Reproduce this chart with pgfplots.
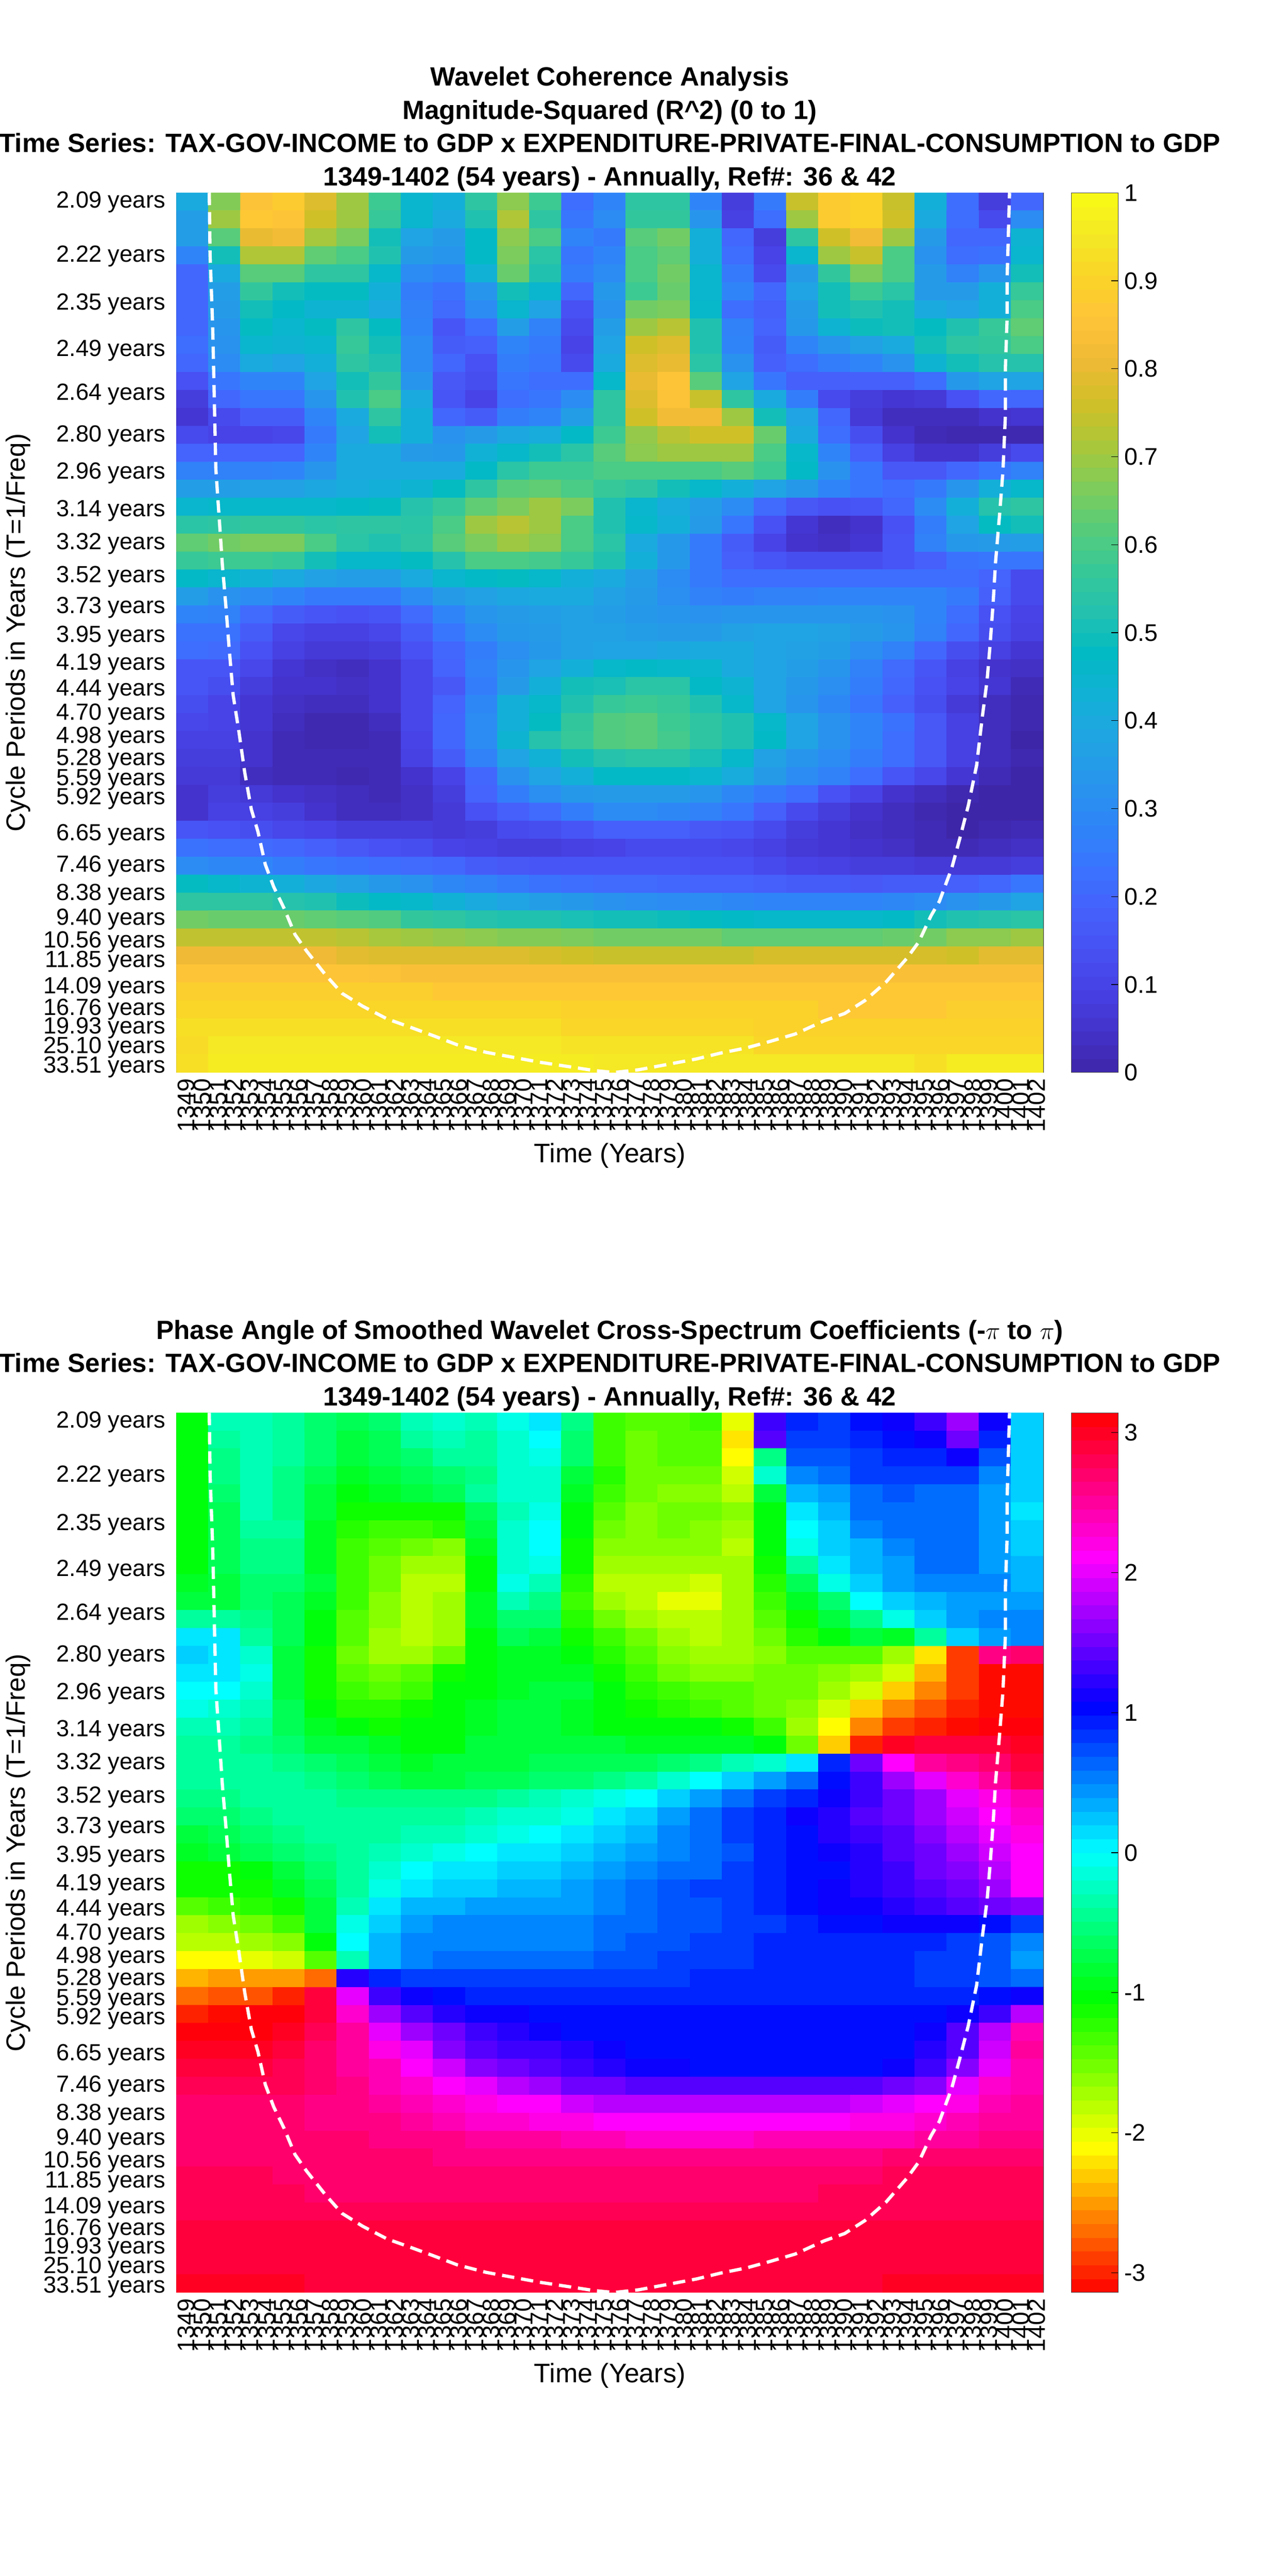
\documentclass[border=0pt]{standalone}
\usepackage{fontspec}
\setmainfont{Liberation Sans}
\usepackage{pgfplots}
\pgfplotsset{compat=1.18}
\newcount\hmx \newcount\hmy
\newcommand\hmreset{\global\hmy=0 \gdef\hmdata{}}
\newcommand\hmadd[1]{\pgfmathsetmacro\hmxx{1349.5+2*\the\hmx}\xdef\hmdata{\hmdata (\hmxx,\hmyy)[#1] }}
\newcommand\R[1]{\global\hmx=0 \pgfmathsetmacro\hmyy{(\the\hmy+0.5)*48/49}%
 \pgfplotsforeachungrouped \v in {#1}{\ifnum\hmx<27 \hmadd{\v}\global\advance\hmx by 1 \fi\xdef\hmlast{\v}}%
 \loop\ifnum\hmx<27 \hmadd{\hmlast}\global\advance\hmx by 1 \repeat
 \global\advance\hmy by 1 }
% Panel 1: R^2 x 100, 49 rows (top to bottom), 27 two-year columns
\hmreset
\R{40,67,85,88,78,70,58,45,42,55,68,58,22,28,55,55,28,8,25,75,88,90,75,42,22,8,20}
\R{36,70,87,86,76,70,57,45,40,52,72,55,24,30,56,56,33,9,22,70,88,90,76,40,22,12,30}
\R{36,62,80,82,71,66,50,38,35,47,68,60,28,25,62,65,42,20,8,55,76,82,70,35,20,20,44}
\R{28,50,72,72,63,60,52,35,33,47,66,54,24,28,60,63,42,22,10,45,70,75,60,32,22,23,45}
\R{20,40,62,62,55,55,46,30,28,43,64,52,26,30,60,65,45,25,12,35,56,66,60,35,27,33,50}
\R{20,36,56,50,48,48,42,26,23,33,50,45,20,34,58,64,45,28,20,38,50,58,54,35,35,42,57}
\R{20,35,50,47,44,44,40,27,21,30,45,38,14,32,65,66,46,22,18,35,50,52,50,40,38,42,60}
\R{20,33,48,45,48,55,48,28,15,22,36,27,12,36,70,73,52,27,19,34,44,49,50,48,52,57,63}
\R{22,32,45,44,45,57,50,30,17,18,28,25,10,38,76,78,52,28,17,28,33,37,40,50,55,56,60}
\R{20,30,40,38,42,55,52,30,20,14,26,24,12,40,78,80,54,32,18,22,26,28,32,44,50,53,53}
\R{14,24,28,28,38,50,56,33,16,13,24,22,22,46,80,86,62,38,24,18,18,18,18,22,34,38,38}
\R{8,20,24,24,33,52,60,40,15,10,22,24,30,55,78,85,75,55,40,26,12,8,6,7,14,20,20}
\R{6,12,17,17,28,40,55,42,20,17,26,28,36,55,76,82,82,70,50,38,20,7,3,3,3,5,6}
\R{12,10,10,11,25,38,50,42,32,35,39,41,47,58,69,73,76,76,64,40,22,13,5,2,1,1,1}
\R{19,19,19,19,28,40,40,35,34,43,46,50,54,62,68,70,70,70,60,46,28,18,9,5,5,8,12}
\R{27,27,27,28,33,40,40,40,40,47,54,58,58,60,60,60,60,62,58,47,32,24,16,16,20,24,27}
\R{36,36,37,37,39,41,42,44,48,55,62,63,60,57,55,50,46,42,38,34,28,24,22,25,33,42,46}
\R{45,46,46,46,46,47,48,53,57,63,66,70,66,52,45,41,36,30,21,16,14,15,20,30,42,53,55}
\R{54,55,56,56,54,55,55,54,60,70,73,70,60,52,46,42,35,24,14,6,3,5,14,26,38,48,50}
\R{63,65,66,66,60,54,52,55,62,66,70,68,60,54,40,34,25,17,10,5,4,6,15,27,34,35,36}
\R{57,58,58,57,50,46,46,48,53,60,60,59,57,52,42,34,25,18,15,13,13,13,15,18,23,24,24}
\R{47,45,43,40,37,36,36,40,45,47,48,46,42,40,36,30,25,22,22,22,22,22,22,22,22,19,12}
\R{36,32,30,28,25,25,25,30,35,37,39,40,40,37,35,31,27,26,27,27,28,28,28,28,25,18,12}
\R{28,27,21,17,15,14,15,21,28,33,35,36,37,36,34,33,32,33,33,33,33,33,32,28,22,14,10}
\R{23,23,17,11,9,9,11,17,24,30,34,35,37,37,36,35,35,37,38,38,37,35,33,27,20,13,9}
\R{22,21,14,9,7,7,8,14,20,26,31,34,37,38,38,39,40,40,38,37,36,31,27,20,13,9,6}
\R{15,15,11,6,4,3,5,11,19,27,33,38,42,46,47,46,45,40,38,36,33,27,21,15,9,5,4}
\R{15,13,8,5,5,4,5,11,16,26,35,42,50,51,54,54,47,44,38,34,31,26,20,14,10,6,2}
\R{13,10,6,4,3,3,5,11,19,29,42,46,52,57,58,57,52,46,38,33,29,24,18,13,7,3,1}
\R{11,10,6,3,1,1,3,11,20,30,42,48,56,61,62,58,55,52,46,38,32,28,23,16,9,3,1}
\R{9,9,5,2,1,1,2,10,20,30,44,53,57,61,62,59,55,52,47,38,32,28,22,16,9,3,0}
\R{8,8,5,2,2,2,2,9,17,27,38,43,50,53,54,54,51,46,37,33,30,26,22,16,9,3,1}
\R{7,7,3,2,2,1,2,5,10,20,32,38,42,47,47,47,45,41,35,30,27,22,15,11,6,2,0}
\R{5,8,7,5,4,3,2,4,8,19,26,31,34,35,35,35,33,29,25,22,14,10,5,3,1,0,0}
\R{5,9,9,8,5,3,3,4,7,14,18,21,26,30,30,29,27,24,18,12,8,5,3,1,0,0,0}
\R{15,14,13,11,10,8,8,8,7,8,12,13,15,18,18,18,16,15,12,8,6,4,3,2,0,1,2}
\R{23,22,21,20,18,16,14,13,10,9,8,8,9,10,12,12,12,11,9,7,6,5,4,2,2,3,4}
\R{30,29,28,26,24,23,22,21,20,17,16,15,15,15,15,15,14,14,12,10,9,8,8,7,7,7,8}
\R{48,46,44,42,39,37,34,32,29,27,25,23,22,21,21,20,19,19,18,17,17,16,17,17,18,20,24}
\R{55,55,55,53,52,49,47,46,43,40,38,36,34,32,31,30,30,29,28,28,28,28,29,30,32,34,38}
\R{65,64,64,64,63,62,61,56,55,53,52,52,51,50,50,49,48,47,46,46,46,46,47,50,52,53,54}
\R{74,74,74,74,74,73,71,70,69,68,67,67,66,65,65,65,65,63,63,63,63,63,64,65,68,68,70}
\R{81,81,81,81,81,79,78,78,78,78,78,77,76,75,75,75,75,75,77,77,77,77,77,77,76,79,79}
\R{86,86,86,86,86,86,85,84,84,84,84,84,84,84,84,84,84,84,84,84,84,84,84,84,84,84,84}
\R{89,89,89,89,89,89,89,89,87,87,87,87,87,87,87,87,87,87,87,87,87,87,87,87,87,87,87}
\R{91,91,91,91,91,91,91,91,91,91,91,91,90,90,90,90,90,90,90,90,87,87,87,87,89,89,89}
\R{93,93,93,93,93,93,93,93,93,93,93,93,91,91,91,91,91,91,90,90,90,90,90,90,90,90,90}
\R{92,95,95,95,95,95,95,95,95,95,95,95,94,94,94,94,94,94,91,91,91,91,91,91,91,91,91}
\R{93,96,96,96,96,96,96,96,96,96,96,96,96,95,95,95,95,95,95,95,95,95,95,93,96,96,96}
\let\hmA\hmdata
% Panel 2: phase x 10 (radians), 49 rows (top to bottom), 27 two-year columns
\hmreset
\R{-10,-3,-3,-4,-6,-7,-6,-3,-2,-3,-1,1,-5,-13,-14,-14,-13,-20,13,9,8,10,11,13,17,11,2}
\R{-10,-4,-3,-4,-6,-8,-7,-4,-3,-4,-2,0,-6,-13,-15,-14,-14,-22,14,8,8,9,10,11,15,9,2}
\R{-10,-5,-3,-4,-6,-8,-7,-6,-4,-4,-2,-1,-6,-13,-15,-14,-14,-21,-5,7,7,8,9,9,11,7,2}
\R{-10,-5,-3,-5,-7,-9,-8,-7,-6,-5,-2,-2,-8,-12,-15,-15,-15,-19,-2,5,6,8,8,8,8,5,2}
\R{-10,-6,-3,-5,-8,-10,-9,-8,-7,-4,-2,-2,-9,-13,-15,-16,-16,-18,-8,3,4,6,7,6,6,4,2}
\R{-10,-7,-3,-5,-8,-11,-11,-11,-11,-7,-3,-1,-10,-14,-16,-15,-15,-16,-10,1,3,6,6,6,6,4,1}
\R{-10,-7,-4,-4,-9,-12,-13,-13,-12,-8,-2,0,-10,-15,-16,-15,-16,-17,-10,0,2,5,6,6,6,4,2}
\R{-10,-7,-5,-5,-9,-13,-14,-15,-16,-9,-2,0,-11,-16,-16,-16,-16,-18,-10,-1,2,3,5,6,6,4,2}
\R{-10,-7,-5,-5,-9,-13,-15,-17,-17,-10,-2,-1,-11,-17,-17,-17,-17,-17,-11,-4,1,3,4,6,6,4,3}
\R{-9,-8,-6,-6,-8,-13,-15,-18,-18,-10,-1,-3,-12,-18,-18,-18,-19,-17,-12,-7,-1,2,4,5,5,5,3}
\R{-8,-8,-6,-7,-9,-13,-16,-18,-17,-9,-3,-5,-13,-17,-18,-20,-20,-17,-13,-9,-6,0,2,3,4,4,4}
\R{-4,-4,-5,-7,-10,-14,-16,-18,-17,-9,-6,-6,-12,-15,-17,-18,-18,-17,-14,-11,-8,-5,-1,2,4,5,5}
\R{1,1,-4,-7,-10,-14,-17,-18,-17,-10,-7,-8,-11,-13,-15,-17,-18,-17,-15,-12,-10,-8,-9,-4,2,4,5}
\R{2,1,-2,-8,-11,-15,-17,-17,-15,-10,-9,-9,-10,-12,-14,-16,-17,-17,-16,-14,-14,-14,-17,-22,-29,26,27}
\R{1,1,-1,-8,-11,-14,-15,-14,-11,-10,-9,-9,-9,-11,-13,-15,-16,-16,-15,-15,-16,-17,-19,-24,-29,-31,-31}
\R{0,0,-2,-8,-11,-13,-14,-13,-10,-10,-9,-8,-8,-10,-12,-13,-14,-14,-15,-15,-17,-19,-23,-26,-29,-31,-31}
\R{-1,-2,-3,-7,-10,-12,-12,-11,-10,-9,-8,-8,-9,-10,-11,-12,-13,-14,-15,-16,-19,-23,-26,-28,-30,-31,-31}
\R{-3,-3,-4,-7,-9,-10,-11,-10,-10,-9,-8,-8,-9,-10,-10,-10,-10,-11,-13,-17,-21,-26,-29,-30,-31,31,31}
\R{-4,-4,-5,-6,-8,-8,-9,-10,-10,-8,-8,-8,-8,-8,-9,-9,-9,-9,-10,-15,-23,-30,30,29,29,29,30}
\R{-4,-4,-4,-5,-6,-7,-8,-9,-8,-8,-8,-7,-7,-7,-7,-6,-5,-3,-2,1,9,15,21,25,26,27,29}
\R{-4,-4,-4,-4,-5,-6,-7,-8,-8,-7,-7,-6,-6,-5,-4,-2,0,2,4,6,10,13,17,20,23,25,28}
\R{-5,-5,-4,-4,-4,-5,-5,-5,-5,-5,-4,-3,-2,-1,0,2,4,6,8,9,11,13,15,17,20,22,24}
\R{-6,-6,-5,-4,-4,-4,-4,-4,-4,-3,-2,-2,-1,1,2,4,6,8,9,11,12,14,15,17,19,21,23}
\R{-8,-7,-6,-5,-4,-4,-4,-3,-3,-2,-1,0,1,2,3,5,6,8,9,10,12,13,14,16,18,20,22}
\R{-9,-8,-7,-6,-5,-4,-3,-2,-1,0,1,1,2,3,4,5,6,7,9,10,11,12,14,15,17,19,21}
\R{-11,-11,-10,-8,-6,-4,-2,0,1,1,2,2,3,4,5,6,6,8,9,10,10,12,13,15,16,18,21}
\R{-11,-11,-11,-9,-7,-4,-1,1,2,2,3,3,4,5,6,7,8,8,9,10,11,12,13,14,15,17,21}
\R{-14,-13,-12,-11,-8,-3,1,3,3,4,4,4,4,5,6,7,7,8,9,10,11,11,12,13,14,15,16}
\R{-17,-16,-15,-13,-8,-1,2,4,5,5,5,5,5,6,6,7,7,8,8,9,10,10,11,11,11,10,8}
\R{-18,-18,-17,-16,-10,0,3,5,5,5,5,5,5,6,7,7,8,8,9,9,9,9,9,9,8,7,5}
\R{-21,-21,-20,-19,-14,-3,3,5,6,6,6,6,6,7,7,8,8,8,9,9,9,9,9,8,8,7,4}
\R{-24,-25,-25,-25,-27,12,9,8,8,8,8,8,8,8,8,8,9,9,9,9,9,9,9,8,8,7,6}
\R{-27,-28,-28,-30,29,20,13,11,10,9,9,9,9,9,9,9,9,9,9,9,9,9,9,9,9,10,11}
\R{-30,-31,31,31,29,23,17,14,12,11,11,10,10,10,10,10,10,10,10,10,10,10,10,10,11,13,18}
\R{31,31,31,30,28,25,20,17,15,13,12,11,10,10,10,10,10,10,10,10,10,10,10,11,14,18,24}
\R{30,30,30,29,27,25,22,20,16,14,13,13,12,11,10,10,10,10,10,10,10,10,10,12,14,19,25}
\R{29,29,29,28,27,25,24,21,19,16,15,14,13,12,11,11,10,10,10,10,10,10,11,13,16,20,24}
\R{28,28,28,28,27,26,24,23,21,20,18,17,15,15,14,14,14,14,14,14,14,14,15,16,20,23,24}
\R{27,27,27,27,26,26,25,24,23,22,21,21,19,18,18,18,18,18,18,18,18,19,20,21,22,24,25}
\R{27,27,27,27,26,26,26,25,24,23,23,22,22,21,21,21,21,21,21,21,21,22,22,23,24,25,25}
\R{27,27,27,27,27,27,26,26,26,25,25,25,24,24,23,23,23,23,24,24,24,24,24,25,25,26,26}
\R{27,27,27,27,27,27,27,27,26,26,26,26,26,26,26,26,26,26,26,26,26,26,27,27,27,27,27}
\R{28,28,28,27,27,27,27,27,27,27,27,27,27,27,27,27,27,27,27,27,27,27,28,28,28,28,28}
\R{28,28,28,28,27,27,27,27,27,27,27,27,27,27,27,27,27,27,27,27,28,28,28,28,28,28,28}
\R{28}
\R{29}
\R{29}
\R{29}
\R{30,30,30,30,29,29,29,29,29,29,29,29,29,29,29,29,29,29,29,29,29,29,30,30,30,30,30}
\let\hmB\hmdata
\newcommand\hmplot[1]{\edef\hmtmp{\noexpand\addplot[matrix plot*,mesh/cols=27,mesh/rows=49,point meta=explicit] coordinates {#1};}\hmtmp}
\newcommand\tl{\fontsize{14}{16}\selectfont}
\newcommand\tly{\fontsize{13.6}{16}\selectfont}
\newcommand\lb{\fontsize{15.6}{18}\selectfont}
\newcommand\lby{\fontsize{15.4}{18}\selectfont}
\pgfplotsset{
 colormap={parula}{rgb=(.2422,.1504,.6603) rgb=(.2647,.1978,.7952) rgb=(.2783,.2559,.8991) rgb=(.2810,.3228,.9579) rgb=(.2699,.3892,.9906) rgb=(.2206,.4603,.9973) rgb=(.1786,.5289,.9682) rgb=(.1540,.5902,.9218) rgb=(.1248,.6459,.8883) rgb=(.0689,.6948,.8394) rgb=(.0067,.7312,.7660) rgb=(.1408,.7584,.6842) rgb=(.2161,.7843,.5923) rgb=(.3406,.8008,.4789) rgb=(.5044,.7993,.3480) rgb=(.6720,.7793,.2227) rgb=(.8203,.7498,.1535) rgb=(.9393,.7288,.2100) rgb=(.9970,.7659,.2199) rgb=(.9786,.8318,.1546) rgb=(.9597,.9135,.1423) rgb=(.9769,.9839,.0805)},
 colormap={hsvm}{rgb=(1,0,0) rgb=(1,1,0) rgb=(0,1,0) rgb=(0,1,1) rgb=(0,0,1) rgb=(1,0,1) rgb=(1,0,0)},
 hm/.style={
  scale only axis,width=504.96pt,height=512.4pt,
  xmin=1348.5,xmax=1402.5,ymin=0,ymax=48,y dir=reverse,
  axis line style={line width=0.4pt,black!80},
  tick align=inside,major tick length=4.8pt,minor tick length=0pt,
  tick style={line width=0.4pt,black},
  xtick={1349,1350,...,1402},
  scaled x ticks=false,
  x tick label style={rotate=90,anchor=east,font=\tl,/pgf/number format/assume math mode=true,/pgf/number format/1000 sep={},xshift=0pt,yshift=-1pt},
  y tick label style={font=\tly,xshift=-2.9pt,yshift=-1.7pt},
  ytick={0.36,3.31,5.93,8.44,10.84,13.12,15.15,17.19,19.00,20.80,22.48,24.05,25.58,26.99,28.30,29.56,30.76,31.86,32.91,33.90,34.86,35.74,36.58,37.38,38.13,38.83,39.49,40.12,40.72,41.27,41.80,42.29,42.77,43.21,43.63,44.03,44.40,44.75,45.08,45.40,45.69,45.97,46.24,46.48,46.72,46.94,47.16,47.35,47.54},
  yticklabels={2.09 years,2.22 years,2.35 years,2.49 years,2.64 years,2.80 years,2.96 years,3.14 years,3.32 years,3.52 years,3.73 years,3.95 years,4.19 years,4.44 years,4.70 years,4.98 years,5.28 years,5.59 years,5.92 years,{},6.65 years,{},7.46 years,{},8.38 years,{},9.40 years,{},10.56 years,{},11.85 years,{},{},14.09 years,{},{},16.76 years,{},{},19.93 years,{},{},{},25.10 years,{},{},{},{},33.51 years},
  xlabel={Time (Years)},ylabel={Cycle Periods in Years (T=1/Freq)},
  xlabel style={at={(axis description cs:0.5,-0.0946)},anchor=center,font=\lb},
  ylabel style={at={(axis description cs:-0.1825,0.5)},anchor=center,font=\lby},
  title style={at={(axis description cs:0.5,1)},anchor=south,align=center,yshift=-8.6pt,font=\bfseries\fontsize{15.38}{19.4}\selectfont},
  colorbar sampled,
 },
 cb/.style={colorbar style={samples=65,at={(1.0323,1)},anchor=north west,scale only axis,width=27.36pt,height=512.4pt,
   ytick pos=right,yticklabel pos=right,tick align=inside,major tick length=4pt,
   axis line style={line width=0.4pt,black!70},tick style={line width=0.4pt,black},
   y tick label style={font=\tl},xticklabels={},xtick=\empty,#1}},
}
\begin{document}
\begin{tikzpicture}
\useasboundingbox (0,0) rectangle (750pt,1500.48pt);
\begin{axis}[hm,at={(102.72pt,875.76pt)},anchor=south west,
 colormap name=parula,point meta min=0,point meta max=100,
 cb={ytick={0,10,...,100},yticklabels={0,0.1,0.2,0.3,0.4,0.5,0.6,0.7,0.8,0.9,1}},
 title={Wavelet Coherence Analysis\\Magnitude-Squared (R\^{}2) (0 to 1)\\Time Series: TAX-GOV-INCOME to GDP x EXPENDITURE-PRIVATE-FINAL-CONSUMPTION to GDP\\1349-1402 (54 years) - Annually, Ref\#: 36 \& 42}]
\hmplot{\hmA}
\addplot[white,line width=1.9pt,dash pattern=on 7.2pt off 4pt,no marks] coordinates {(1350.55,0)(1350.6,3.34)(1350.76,7.22)(1350.86,11.09)(1350.96,15.07)(1351.17,17.76)(1351.37,20.34)(1351.58,22.49)(1351.79,24.86)(1352.04,27.42)(1352.4,29.42)(1352.76,31.63)(1353.17,33.64)(1353.58,34.85)(1354.04,36.65)(1354.56,37.86)(1355.22,39.06)(1355.89,40.47)(1356.61,41.37)(1357.79,42.67)(1358.82,43.68)(1360.1,44.38)(1361.64,45.08)(1362.92,45.48)(1364.47,45.98)(1366,46.49)(1367.8,46.9)(1369.6,47.19)(1371.14,47.44)(1372.94,47.68)(1374.5,47.89)(1375.76,48)(1377.3,47.85)(1378.84,47.6)(1380.9,47.26)(1382.4,46.94)(1384,46.66)(1385.5,46.3)(1387.05,45.9)(1388.85,45.18)(1390.13,44.78)(1391.4,44.07)(1392.7,43.07)(1394,41.77)(1394.75,40.87)(1395.5,39.46)(1396.03,38.66)(1396.8,36.85)(1397.3,35.24)(1397.83,33.44)(1398.35,31.23)(1398.7,28.62)(1399,26.61)(1399.17,24.86)(1399.37,22.49)(1399.53,20.13)(1399.78,17.55)(1399.99,15.18)(1400.14,12.16)(1400.14,9.58)(1400.25,6.8)(1400.25,4.64)(1400.4,0)};
\end{axis}
\begin{axis}[hm,at={(102.72pt,165.12pt)},anchor=south west,
 colormap name=hsvm,point meta min=-31.416,point meta max=31.416,
 cb={ytick={-30,-20,-10,0,10,20,30},yticklabels={-3,-2,-1,0,1,2,3}},
 title={Phase Angle of Smoothed Wavelet Cross-Spectrum Coefficients (-$\pi$ to $\pi$)\\Time Series: TAX-GOV-INCOME to GDP x EXPENDITURE-PRIVATE-FINAL-CONSUMPTION to GDP\\1349-1402 (54 years) - Annually, Ref\#: 36 \& 42}]
\hmplot{\hmB}
\addplot[white,line width=1.9pt,dash pattern=on 7.2pt off 4pt,no marks] coordinates {(1350.55,0)(1350.6,3.34)(1350.76,7.22)(1350.86,11.09)(1350.96,15.07)(1351.17,17.76)(1351.37,20.34)(1351.58,22.49)(1351.79,24.86)(1352.04,27.42)(1352.4,29.42)(1352.76,31.63)(1353.17,33.64)(1353.58,34.85)(1354.04,36.65)(1354.56,37.86)(1355.22,39.06)(1355.89,40.47)(1356.61,41.37)(1357.79,42.67)(1358.82,43.68)(1360.1,44.38)(1361.64,45.08)(1362.92,45.48)(1364.47,45.98)(1366,46.49)(1367.8,46.9)(1369.6,47.19)(1371.14,47.44)(1372.94,47.68)(1374.5,47.89)(1375.76,48)(1377.3,47.85)(1378.84,47.6)(1380.9,47.26)(1382.4,46.94)(1384,46.66)(1385.5,46.3)(1387.05,45.9)(1388.85,45.18)(1390.13,44.78)(1391.4,44.07)(1392.7,43.07)(1394,41.77)(1394.75,40.87)(1395.5,39.46)(1396.03,38.66)(1396.8,36.85)(1397.3,35.24)(1397.83,33.44)(1398.35,31.23)(1398.7,28.62)(1399,26.61)(1399.17,24.86)(1399.37,22.49)(1399.53,20.13)(1399.78,17.55)(1399.99,15.18)(1400.14,12.16)(1400.14,9.58)(1400.25,6.8)(1400.25,4.64)(1400.4,0)};
\end{axis}
\end{tikzpicture}
\end{document}
